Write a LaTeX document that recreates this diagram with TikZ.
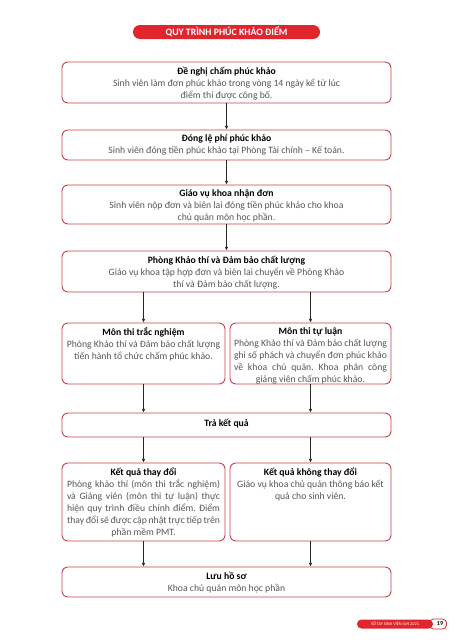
\documentclass[tikz,border=0pt]{standalone}
\usepackage{fontspec}
\setmainfont{Carlito}
\usetikzlibrary{arrows.meta}
\definecolor{iuhred}{HTML}{E0252D}
\definecolor{boxred}{HTML}{C9434B}
\definecolor{bodygray}{HTML}{555555}
\newcommand{\boxtitle}[1]{\textcolor{black}{\bfseries #1}}
\newcommand{\jline}[1]{\makebox[153pt][s]{#1}}
\frenchspacing

\begin{document}
\begin{tikzpicture}[x=1pt, y=-1pt,
    frame/.style={draw=boxred, line width=0.9pt, rounded corners=6pt, fill=white, inner sep=0pt},
    txt/.style={anchor=north, align=center, inner sep=0pt, text=bodygray,
        font=\fontsize{9.7}{12}\selectfont},
    link/.style={draw=black!85, line width=0.6pt, -{Latex[length=3.6pt,width=3.4pt]}}]
    \useasboundingbox (0,0) rectangle (453,640);

    % Heading
    \node[fill=iuhred, rounded corners=7pt, minimum width=187pt, minimum height=14pt,
        inner sep=0pt, text=white, font=\fontsize{9.8}{10}\selectfont\bfseries]
        (head) at (226.5,32) {QUY TRÌNH PHÚC KHẢO ĐIỂM};

    % Main steps (full width)
    \node[frame, minimum width=329pt, minimum height=41pt] (b1) at (226.5,82.5) {};
    \node[frame, minimum width=329pt, minimum height=30pt] (b2) at (226.5,145) {};
    \node[frame, minimum width=329pt, minimum height=39pt] (b3) at (226.5,204.5) {};
    \node[frame, minimum width=329pt, minimum height=41pt] (b4) at (226.5,271.5) {};

    % Two kinds of exam
    \node[frame, minimum width=163pt, minimum height=61pt] (trac) at (143.5,353.5) {};
    \node[frame, minimum width=161pt, minimum height=61pt] (tuluan) at (310.5,353.5) {};

    % Results
    \node[frame, minimum width=329pt, minimum height=24pt] (tra) at (226.5,425) {};
    \node[frame, minimum width=163pt, minimum height=78pt] (doi) at (143.5,502) {};
    \node[frame, minimum width=161pt, minimum height=78pt] (khongdoi) at (310.5,502) {};
    \node[frame, minimum width=329pt, minimum height=30pt] (luu) at (226.5,582) {};

    % Texts
    \node[txt] (t1) at ([yshift=-5pt]b1.north) {\boxtitle{Đề nghị chấm phúc khảo}\\
        Sinh viên làm đơn phúc khảo trong vòng 14 ngày kể từ lúc\\
        điểm thi được công bố.};
    \node[txt] (t2) at ([yshift=-5pt]b2.north) {\boxtitle{Đóng lệ phí phúc khảo}\\
        Sinh viên đóng tiền phúc khảo tại Phòng Tài chính – Kế toán.};
    \node[txt] (t3) at ([yshift=-5pt]b3.north) {\boxtitle{Giáo vụ khoa nhận đơn}\\
        Sinh viên nộp đơn và biên lai đóng tiền phúc khảo cho khoa\\
        chủ quản môn học phần.};
    \node[txt] (t4) at ([yshift=-5pt]b4.north) {\boxtitle{Phòng Khảo thí và Đảm bảo chất lượng}\\
        Giáo vụ khoa tập hợp đơn và biên lai chuyển về Phòng Khảo\\
        thí và Đảm bảo chất lượng.};
    \node[txt] (t5) at ([yshift=-5pt]trac.north) {\boxtitle{Môn thi trắc nghiệm}\\
        Phòng Khảo thí và Đảm bảo chất lượng\\
        tiến hành tổ chức chấm phúc khảo.};
    \node[txt] (t6) at ([yshift=-5pt]tuluan.north) {\boxtitle{Môn thi tự luận}\\
        \jline{Phòng Khảo thí và Đảm bảo chất lượng}\\
        \jline{ghi số phách và chuyển đơn phúc khảo}\\
        \jline{về khoa chủ quản. Khoa phân công}\\
        giảng viên chấm phúc khảo.};
    \node[txt] (t7) at ([yshift=-6pt]tra.north) {\boxtitle{Trả kết quả}};
    \node[txt] (t8) at ([yshift=-5pt]doi.north) {\boxtitle{Kết quả thay đổi}\\
        \jline{Phòng khảo thí (môn thi trắc nghiệm)}\\
        \jline{và Giảng viên (môn thi tự luận) thực}\\
        \jline{hiện quy trình điều chỉnh điểm. Điểm}\\
        \jline{thay đổi sẽ được cập nhật trực tiếp trên}\\
        phần mềm PMT.};
    \node[txt] (t9) at ([yshift=-5pt]khongdoi.north) {\boxtitle{Kết quả không thay đổi}\\
        Giáo vụ khoa chủ quản thông báo kết\\
        quả cho sinh viên.};
    \node[txt] (t10) at ([yshift=-5pt]luu.north) {\boxtitle{Lưu hồ sơ}\\
        Khoa chủ quản môn học phần};

    % Connectors
    \draw[link] (b1) -- (b2);
    \draw[link] (b2) -- (b3);
    \draw[link] (b3) -- (b4);
    \draw[link] (b4.south -| trac.north) -- (trac.north);
    \draw[link] (b4.south -| tuluan.north) -- (tuluan.north);
    \draw[link] (trac.south) -- (tra.north -| trac.south);
    \draw[link] (tuluan.south) -- (tra.north -| tuluan.south);
    \draw[link] (tra.south -| doi.north) -- (doi.north);
    \draw[link] (tra.south -| khongdoi.north) -- (khongdoi.north);
    \draw[link] (doi.south) -- (luu.north -| doi.south);
    \draw[link] (khongdoi.south) -- (luu.north -| khongdoi.south);

    % Footer
    \node[draw=iuhred, line width=0.8pt, fill=white, rounded corners=4pt, minimum width=17pt,
        minimum height=10pt, inner sep=0pt, font=\fontsize{6}{6}\selectfont\bfseries,
        text depth=0pt] (page) at (438,624) {\hspace{4pt}19};
    \node[fill=iuhred, rounded corners=4.5pt, minimum width=76pt, minimum height=9pt,
        inner sep=0pt, text=white, font=\fontsize{4.3}{5}\selectfont]
        (book) at (395,624) {SỔ TAY SINH VIÊN IUH 2021};
\end{tikzpicture}
\end{document}
